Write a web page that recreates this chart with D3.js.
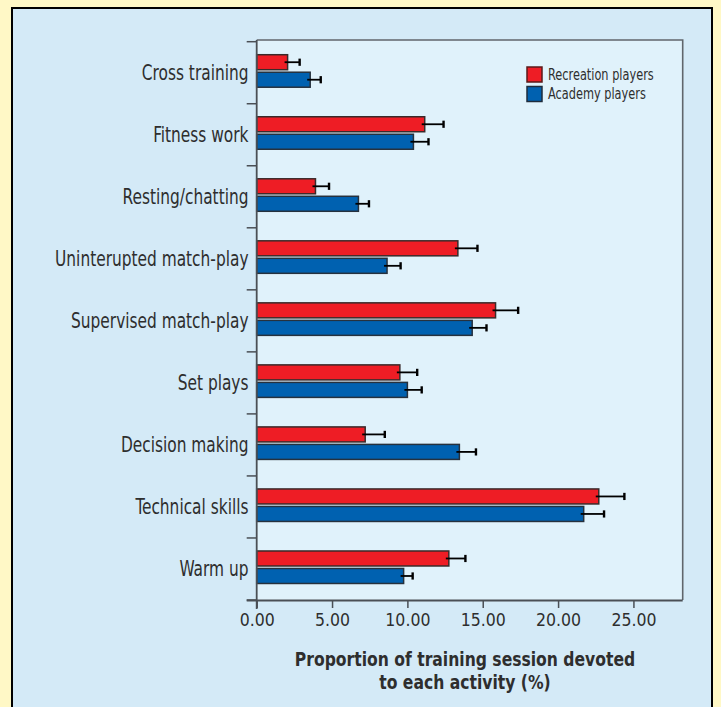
<!DOCTYPE html>
<html>
<head>
<meta charset="utf-8">
<script src="https://cdn.jsdelivr.net/npm/d3@7"></script>
<style>
  html, body { margin: 0; padding: 0; background: #fff8c6; }
  svg { display: block; }
  text { font-family: "Liberation Sans Narrow", "DejaVu Sans Condensed", sans-serif; fill: #2e2e2e; }
</style>
</head>
<body>
<svg id="chart" width="721" height="707"></svg>
<script>
// Training activities, listed top to bottom
const categories = [
  "Cross training", "Fitness work", "Resting/chatting", "Uninterupted match-play",
  "Supervised match-play", "Set plays", "Decision making", "Technical skills", "Warm up"
];
const seriesNames = ["Recreation players", "Academy players"];
// Mean % of session per activity
const recreationMeans = [2.05, 11.15, 3.9, 13.35, 15.85, 9.5, 7.2, 22.7, 12.75];
const academyMeans   = [3.55, 10.4, 6.75, 8.65, 14.3, 10.0, 13.45, 21.7, 9.75];
// Upper error (standard error) per activity
const recreationErr = [0.8, 1.25, 0.9, 1.3, 1.5, 1.15, 1.3, 1.7, 1.1];
const academyErr    = [0.7, 1.0, 0.7, 0.9, 0.95, 0.95, 1.1, 1.35, 0.6];
const xTicks = [0, 5, 10, 15, 20, 25];

const colors = ["#ee1d25", "#0061b0"];
const strokeColors = ["#3a2a2a", "#26313d"];

// Condensed look: squeeze text horizontally around its anchor point
const squeeze = (px, py, k) => `translate(${px},${py}) scale(${k},1)`;

const svg = d3.select("#chart");

// Outer panel with black frame
svg.append("rect")
  .attr("x", 12).attr("y", 8).attr("width", 700).attr("height", 720)
  .attr("fill", "#d4eaf7").attr("stroke", "#000").attr("stroke-width", 2);

const plot = { left: 256.7, right: 682.7, top: 40, bottom: 600 };

const x = d3.scaleLinear().domain([0, 28.27]).range([plot.left, plot.right]);
const y = d3.scaleBand().domain(categories).range([41.7, plot.bottom]);

// Plot background
svg.append("rect")
  .attr("x", plot.left).attr("y", plot.top)
  .attr("width", plot.right - plot.left).attr("height", plot.bottom - plot.top)
  .attr("fill", "#e0f2fb");
// Top and right frame of the plot area
svg.append("path")
  .attr("d", `M${plot.left},${plot.top}H${plot.right}V${plot.bottom}`)
  .attr("fill", "none").attr("stroke", "#60666c").attr("stroke-width", 1.6);

const rows = categories.map((c, i) => ({
  cat: c,
  vals: [
    { s: 0, v: recreationMeans[i], e: recreationErr[i] },
    { s: 1, v: academyMeans[i], e: academyErr[i] }
  ]
}));

const barH = 15;
const barOffset = [-18, -0.5];

const groups = svg.append("g").selectAll("g")
  .data(rows).join("g")
  .attr("transform", d => `translate(0,${y(d.cat) + y.bandwidth() / 2})`);

groups.selectAll("rect.bar")
  .data(d => d.vals).join("rect").attr("class", "bar")
  .attr("x", x(0))
  .attr("y", d => barOffset[d.s])
  .attr("width", d => x(d.v) - x(0))
  .attr("height", barH)
  .attr("fill", d => colors[d.s])
  .attr("stroke", d => strokeColors[d.s])
  .attr("stroke-width", 1.5);

// Error bars: stem from the bar end plus an end cap
const errs = groups.selectAll("g.err")
  .data(d => d.vals).join("g").attr("class", "err");
errs.append("line")
  .attr("x1", d => x(d.v) - 3).attr("x2", d => x(d.v + d.e))
  .attr("y1", d => barOffset[d.s] + barH / 2).attr("y2", d => barOffset[d.s] + barH / 2)
  .attr("stroke", "#000").attr("stroke-width", 1.8);
errs.append("line")
  .attr("x1", d => x(d.v + d.e)).attr("x2", d => x(d.v + d.e))
  .attr("y1", d => barOffset[d.s] + barH / 2 - 3.6).attr("y2", d => barOffset[d.s] + barH / 2 + 3.6)
  .attr("stroke", "#000").attr("stroke-width", 2.4);

// Y axis: boundary ticks between categories
const yTickPos = categories.map(c => y(c)).concat([plot.bottom]);
svg.append("g").selectAll("line")
  .data(yTickPos).join("line")
  .attr("x1", plot.left - 10).attr("x2", plot.left)
  .attr("y1", d => d).attr("y2", d => d)
  .attr("stroke", "#4a4f55").attr("stroke-width", 1.5);
svg.append("line")
  .attr("x1", plot.left).attr("x2", plot.left)
  .attr("y1", plot.top).attr("y2", plot.bottom + 9)
  .attr("stroke", "#4a4f55").attr("stroke-width", 1.8);

// Category labels
svg.append("g").selectAll("text")
  .data(categories).join("text")
  .attr("transform", d => squeeze(248.5, y(d) + y.bandwidth() / 2 + 7.5, 0.835))
  .attr("text-anchor", "end")
  .attr("font-size", 20.5)
  .text(d => d);

// X axis
const xAxis = d3.axisBottom(x).tickValues(xTicks).tickFormat(d3.format(".2f"))
  .tickSize(8).tickPadding(6);
const xg = svg.append("g")
  .attr("transform", `translate(0,${plot.bottom})`)
  .call(xAxis);
xg.select(".domain").attr("d", `M${plot.left - 10},0.5H${plot.right}`)
  .attr("stroke", "#4a4f55").attr("stroke-width", 1.8);
xg.selectAll(".tick line").attr("stroke", "#4a4f55").attr("stroke-width", 1.5);
xg.selectAll(".tick text")
  .attr("font-size", 17.5).attr("fill", "#2e2e2e")
  .attr("font-family", "Liberation Sans Narrow, DejaVu Sans Condensed, sans-serif");

// Axis title (two lines)
const titleLines = ["Proportion of training session devoted", "to each activity (%)"];
svg.append("g").selectAll("text")
  .data(titleLines).join("text")
  .attr("transform", (d, i) => squeeze(465, 666 + i * 22.5, 0.89))
  .attr("text-anchor", "middle")
  .attr("font-size", 19.5).attr("font-weight", "bold")
  .text(d => d);

// Legend
const legend = svg.append("g").selectAll("g")
  .data(seriesNames).join("g")
  .attr("transform", (d, i) => `translate(527,${67 + i * 19.5})`);
legend.append("rect")
  .attr("width", 15).attr("height", 15)
  .attr("fill", (d, i) => colors[i])
  .attr("stroke", (d, i) => i === 0 ? "#5a1a1a" : "#1e2c3c")
  .attr("stroke-width", 1.5);
legend.append("text")
  .attr("transform", squeeze(21, 12.5, 0.83))
  .attr("font-size", 15.2)
  .text(d => d);
</script>
</body>
</html>
